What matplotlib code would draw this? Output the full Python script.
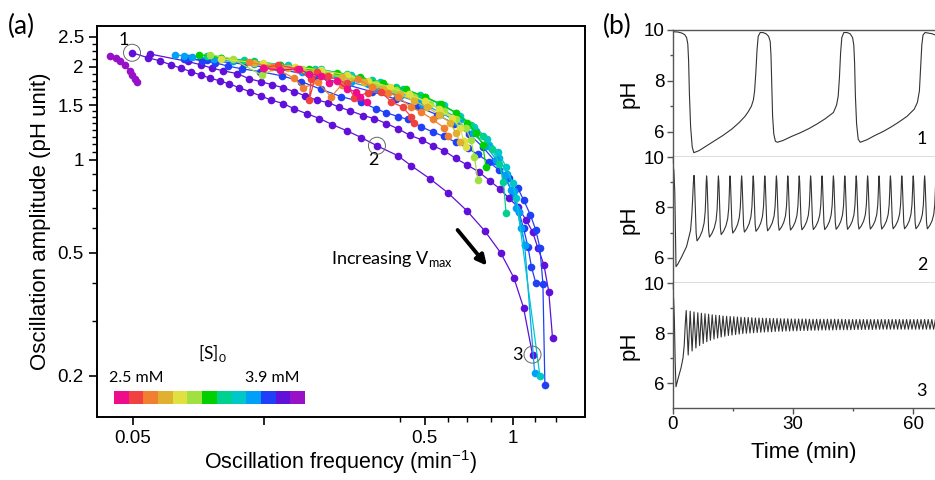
import matplotlib
matplotlib.use('Agg')
import matplotlib.pyplot as plt
from matplotlib.ticker import FixedLocator, NullFormatter

plt.rcParams['font.family'] = ['Liberation Sans', 'DejaVu Sans']
ANN = ['Lato', 'DejaVu Sans']   # Calibri-like font for the annotations

# ---------------- panel (a): amplitude vs frequency ----------------
cb_colors = ['#ec0c8c', '#f04040', '#f08030', '#e0b030', '#e0e040', '#a0e040', '#00d000',
             '#00d090', '#00c8c8', '#00a0f8', '#2040f8', '#6010d8', '#9810c8']

# (color index, frequency [min^-1], amplitude [pH unit])
pink_f = [0.14, 0.16, 0.185, 0.20, 0.22, 0.235, 0.25, 0.27, 0.29, 0.30, 0.317]
pink_a = [1.98, 1.95, 1.97, 1.90, 1.87, 1.77, 1.80, 1.70, 1.66, 1.60, 1.54]
red_f = [0.141, 0.157, 0.182, 0.204, 0.201, 0.213, 0.234, 0.27, 0.287, 0.32, 0.354, 0.384, 0.42, 0.449, 0.459]
red_a = [1.98, 2.03, 1.97, 1.82, 1.56, 1.93, 1.86, 1.77, 1.59, 1.65, 1.66, 1.54, 1.48, 1.38, 1.32]
orange_f = [0.125, 0.15, 0.178, 0.192, 0.215, 0.239, 0.26, 0.296, 0.33, 0.375, 0.405, 0.449, 0.485, 0.533, 0.582, 0.60]
orange_a = [2.07, 2.0, 1.84, 1.71, 1.78, 1.60, 1.75, 1.82, 1.72, 1.65, 1.60, 1.48, 1.43, 1.35, 1.27, 1.19]
gold_f = [0.13, 0.17, 0.21, 0.26, 0.31, 0.36, 0.41, 0.46, 0.51, 0.56, 0.61, 0.64, 0.66]
gold_a = [2.05, 1.98, 1.92, 1.85, 1.78, 1.70, 1.63, 1.55, 1.48, 1.40, 1.32, 1.22, 1.14]
yellow_f = [0.10, 0.14, 0.18, 0.22, 0.27, 0.32, 0.38, 0.44, 0.50, 0.56, 0.62, 0.66, 0.68, 0.69]
yellow_a = [2.12, 2.05, 2.0, 1.95, 1.88, 1.80, 1.72, 1.63, 1.55, 1.46, 1.37, 1.27, 1.15, 1.10]
lime_f = [0.092, 0.11, 0.138, 0.16, 0.19, 0.23, 0.28, 0.34, 0.40, 0.46, 0.52, 0.58, 0.64, 0.69, 0.72, 0.74, 0.76]
lime_a = [2.19, 2.12, 1.88, 2.0, 1.96, 1.90, 1.84, 1.76, 1.68, 1.60, 1.52, 1.44, 1.36, 1.27, 1.16, 1.02, 0.86]
green_f = [0.084, 0.10, 0.13, 0.16, 0.20, 0.25, 0.30, 0.36, 0.43, 0.50, 0.57, 0.64, 0.70, 0.75, 0.79, 0.81]
green_a = [2.19, 2.14, 2.07, 2.02, 1.97, 1.91, 1.85, 1.77, 1.69, 1.60, 1.51, 1.42, 1.32, 1.22, 1.12, 0.95]
teal_f = [0.09, 0.12, 0.16, 0.21, 0.27, 0.33, 0.40, 0.48, 0.56, 0.64, 0.72, 0.79, 0.85, 0.90, 0.93, 0.95]
teal_a = [2.16, 2.10, 2.03, 1.97, 1.89, 1.81, 1.72, 1.62, 1.52, 1.42, 1.30, 1.19, 1.08, 0.97, 0.85, 0.67]
cyan_f = [0.10, 0.13, 0.17, 0.22, 0.28, 0.35, 0.42, 0.50, 0.58, 0.66, 0.74, 0.82, 0.89, 0.95, 1.00, 1.03, 1.24]
cyan_a = [2.14, 2.08, 2.02, 1.96, 1.88, 1.79, 1.70, 1.60, 1.50, 1.39, 1.28, 1.17, 1.06, 0.95, 0.84, 0.75, 0.20]
sky_f = [0.0697, 0.08, 0.095, 0.11, 0.13, 0.155, 0.19, 0.23, 0.28, 0.34, 0.41, 0.49, 0.57, 0.65, 0.73,
         0.81, 0.88, 0.94, 0.99, 1.03, 1.07, 1.10, 1.19]
sky_a = [2.19, 2.15, 2.12, 2.08, 2.04, 2.0, 1.93, 1.86, 1.78, 1.70, 1.61, 1.52, 1.42, 1.32, 1.22,
         1.11, 1.00, 0.89, 0.80, 0.70, 0.60, 0.53, 0.204]
sky2_f = [0.075, 0.10, 0.14, 0.19, 0.25, 0.32, 0.40, 0.48, 0.57, 0.66, 0.75, 0.83, 0.90, 0.96, 1.01, 1.05, 1.10]
sky2_a = [2.17, 2.12, 2.04, 1.95, 1.86, 1.76, 1.66, 1.56, 1.46, 1.35, 1.24, 1.12, 1.01, 0.90, 0.79, 0.68, 0.53]
blue_f = [0.0771, 0.0861, 0.0954, 0.106, 0.118, 0.136, 0.162, 0.189, 0.221, 0.259, 0.303, 0.341, 0.369,
          0.405, 0.438, 0.485, 0.533, 0.582, 0.639, 0.702, 0.760, 0.828, 0.896, 0.969, 1.04, 1.09, 1.15,
          1.20, 1.24, 1.27, 1.29]
blue_a = [2.14, 2.09, 2.06, 2.01, 1.97, 1.93, 1.87, 1.79, 1.69, 1.60, 1.54, 1.46, 1.42, 1.38, 1.35, 1.28,
          1.23, 1.19, 1.14, 1.09, 1.04, 0.985, 0.928, 0.874, 0.812, 0.742, 0.664, 0.593, 0.519, 0.397, 0.187]
blue2_f = [0.075, 0.09, 0.12, 0.16, 0.21, 0.27, 0.33, 0.40, 0.47, 0.55, 0.63, 0.71, 0.79, 0.87, 0.94,
           1.0, 1.05, 1.09, 1.13, 1.16, 1.2]
blue2_a = [2.12, 2.10, 2.04, 1.96, 1.87, 1.75, 1.66, 1.57, 1.49, 1.40, 1.31, 1.21, 1.10, 0.99, 0.88,
           0.78, 0.68, 0.60, 0.52, 0.45, 0.40]
violet_mid_f = [0.0572, 0.0771, 0.0855, 0.0932, 0.102, 0.114, 0.125, 0.137, 0.150, 0.164, 0.179, 0.195,
                0.213, 0.234, 0.255, 0.278, 0.308, 0.336, 0.369, 0.405, 0.445, 0.489, 0.533, 0.582, 0.639,
                0.697, 0.766, 0.835, 0.903, 0.969, 1.04, 1.11, 1.17, 1.22, 1.28, 1.33, 1.37]
violet_mid_a = [2.20, 2.08, 2.03, 1.98, 1.94, 1.90, 1.83, 1.79, 1.75, 1.71, 1.66, 1.61, 1.56, 1.53, 1.48,
                1.44, 1.39, 1.36, 1.31, 1.26, 1.20, 1.16, 1.11, 1.07, 1.01, 0.963, 0.914, 0.855, 0.806,
                0.753, 0.705, 0.640, 0.585, 0.519, 0.457, 0.374, 0.265]
violet_low_f = [0.0497, 0.0563, 0.0619, 0.0675, 0.0730, 0.0790, 0.0855, 0.0917, 0.0993, 0.107, 0.116,
                0.126, 0.137, 0.149, 0.164, 0.179, 0.197, 0.218, 0.241, 0.271, 0.303, 0.343, 0.405,
                0.449, 0.521, 0.600, 0.697, 0.802, 0.910, 1.01, 1.09, 1.17]
violet_low_a = [2.22, 2.14, 2.09, 2.03, 1.98, 1.93, 1.88, 1.84, 1.80, 1.76, 1.71, 1.66, 1.61, 1.56, 1.52,
                1.46, 1.41, 1.36, 1.30, 1.24, 1.18, 1.11, 1.03, 0.957, 0.868, 0.782, 0.684, 0.589, 0.500,
                0.415, 0.332, 0.234]
purple_f = [0.0418, 0.0438, 0.0453, 0.0470, 0.0488, 0.0497, 0.0508, 0.0516]
purple_a = [2.17, 2.14, 2.09, 2.03, 1.94, 1.88, 1.83, 1.79]

series = [(12, purple_f, purple_a), (11, violet_low_f, violet_low_a), (11, violet_mid_f, violet_mid_a),
          (10, blue_f, blue_a), (10, blue2_f, blue2_a), (9, sky_f, sky_a), (9, sky2_f, sky2_a),
          (8, cyan_f, cyan_a), (7, teal_f, teal_a), (6, green_f, green_a), (5, lime_f, lime_a),
          (4, yellow_f, yellow_a), (3, gold_f, gold_a), (2, orange_f, orange_a), (1, red_f, red_a),
          (0, pink_f, pink_a)]

# marked points 1, 2, 3
mark_f = [0.0497, 0.343, 1.17]
mark_a = [2.22, 1.11, 0.234]

# ---------------- panel (b): pH time traces ----------------
p1_t = [0, 0.3, 1.2, 2.2, 2.9, 3.4, 3.7, 3.9, 4.1, 4.4, 4.8, 5.2, 6.5, 8.5, 10.5, 12.5, 14.7, 16.5, 18.0,
        18.8, 19.6, 20.1, 20.4, 20.7, 21.0, 21.3, 21.8, 22.5, 23.3, 23.9, 24.3, 24.5, 24.7, 24.9, 25.2,
        25.6, 26.1, 27.5, 29.5, 31.75, 34, 36, 38, 40.1, 40.9, 41.3, 41.6, 41.9, 42.2, 42.7, 43.5, 44.3,
        44.9, 45.2, 45.4, 45.6, 45.9, 46.3, 46.8, 48.5, 50.5, 52.5, 54.5, 56.5, 58.5, 60.3, 61.1, 61.6,
        61.9, 62.2, 62.5, 63.0, 63.8, 64.8, 65.6]
p1_ph = [9.90, 9.93, 9.92, 9.88, 9.82, 9.7, 9.45, 8.8, 7.5, 6.2, 5.4, 5.17, 5.25, 5.45, 5.65, 5.85, 6.1,
         6.35, 6.6, 6.78, 7.0, 7.25, 7.6, 8.3, 9.2, 9.75, 9.9, 9.9, 9.85, 9.75, 9.55, 9.0, 7.8, 6.6, 5.9,
         5.62, 5.58, 5.65, 5.8, 5.95, 6.12, 6.3, 6.5, 6.75, 7.05, 7.4, 8.1, 9.1, 9.7, 9.9, 9.9, 9.85, 9.7,
         9.4, 8.7, 7.4, 6.3, 5.7, 5.58, 5.68, 5.85, 6.0, 6.18, 6.38, 6.6, 6.88, 7.15, 7.6, 8.5, 9.4, 9.8,
         9.9, 9.88, 9.85, 9.8]

p2_start_t = [0, 0.2, 0.45, 0.6, 0.75, 1.2, 2.2, 3.4, 4.4, 4.7, 4.9, 5.1]
p2_start_ph = [9.6, 9.5, 8.6, 7.0, 5.65, 5.75, 6.05, 6.45, 7.1, 7.7, 8.3, 9.0]
p2_peak_t = [5.25, 8.4, 11.35, 14.25, 17.15, 20.05, 22.95, 25.85, 28.7, 31.55, 34.4, 37.25, 40.1, 42.95,
             45.8, 48.65, 51.5, 54.35, 57.2, 60.05, 62.9, 65.75]
p2_peak_ph = [9.27, 9.25, 9.25, 9.25, 9.25, 9.25, 9.25, 9.25, 9.25, 9.25, 9.25, 9.25, 9.25, 9.25, 9.25,
              9.25, 9.25, 9.25, 9.25, 9.25, 9.25, 9.25]
p2_trough_ph = [6.67, 6.82, 6.92, 6.98, 7.02, 7.05, 7.07, 7.09, 7.10, 7.11, 7.12, 7.12, 7.13, 7.13, 7.14,
                7.14, 7.14, 7.15, 7.15, 7.15, 7.15, 7.15]
# shape of one cycle: phase within the cycle, level between trough (0) and peak (1)
p2_phase = [0, 0.04, 0.1, 0.17, 0.24, 0.45, 0.65, 0.8, 0.89, 0.94, 0.97]
p2_level = [1.0, 0.9, 0.55, 0.12, 0.0, 0.06, 0.15, 0.27, 0.45, 0.7, 0.9]

p3_start_t = [0, 0.15, 0.35, 0.55, 0.75, 1.3, 2.0, 2.5, 2.8, 3.05]
p3_start_ph = [9.5, 9.4, 8.5, 6.8, 5.85, 6.2, 6.6, 7.0, 7.5, 8.3]
p3_peak_t = [3.3, 4.3, 5.25, 6.2, 7.1, 8.0, 8.9, 9.8, 10.7, 11.6, 12.5, 13.4, 14.3, 15.2, 16.1, 17.0,
             17.9, 18.8, 19.7, 20.6, 21.5, 22.4, 23.3, 24.2, 25.1, 26.0, 26.9, 27.8, 28.7, 29.6, 30.5,
             31.4, 32.3, 33.2, 34.1, 35.0, 35.9, 36.8, 37.7, 38.6, 39.5, 40.4, 41.3, 42.2, 43.1, 44.0,
             44.9, 45.8, 46.7, 47.6, 48.5, 49.4, 50.3, 51.2, 52.1, 53.0, 53.9, 54.8, 55.7, 56.6, 57.5,
             58.4, 59.3, 60.2, 61.1, 62.0, 62.9, 63.8, 64.7, 65.6]
p3_peak_ph = [8.90, 8.87, 8.84, 8.81, 8.79, 8.77, 8.75, 8.73, 8.71, 8.70, 8.68, 8.67, 8.66, 8.65, 8.64,
              8.63, 8.62, 8.62, 8.61, 8.60, 8.60, 8.59, 8.59, 8.58, 8.58, 8.58, 8.57, 8.57, 8.57, 8.56,
              8.56, 8.56, 8.56, 8.56, 8.55, 8.55, 8.55, 8.55, 8.55, 8.55, 8.55, 8.55, 8.55, 8.55, 8.54,
              8.54, 8.54, 8.54, 8.54, 8.54, 8.54, 8.54, 8.54, 8.54, 8.54, 8.54, 8.54, 8.54, 8.54, 8.54,
              8.54, 8.54, 8.54, 8.54, 8.54, 8.54, 8.54, 8.54, 8.54, 8.54]
p3_trough_ph = [7.12, 7.28, 7.40, 7.50, 7.58, 7.65, 7.71, 7.76, 7.80, 7.84, 7.87, 7.90, 7.92, 7.94, 7.96,
                7.98, 7.99, 8.00, 8.01, 8.02, 8.03, 8.04, 8.05, 8.05, 8.06, 8.07, 8.07, 8.08, 8.08, 8.09,
                8.09, 8.10, 8.10, 8.10, 8.11, 8.11, 8.11, 8.12, 8.12, 8.12, 8.12, 8.13, 8.13, 8.13, 8.13,
                8.13, 8.14, 8.14, 8.14, 8.14, 8.14, 8.14, 8.15, 8.15, 8.15, 8.15, 8.15, 8.15, 8.15, 8.15,
                8.15, 8.15, 8.15, 8.15, 8.15, 8.15, 8.15, 8.15, 8.15, 8.15]
p3_phase = [0, 0.5]
p3_level = [1.0, 0.0]


def build_trace(start_t, start_ph, peak_t, peak_ph, trough_ph, phase, level):
    t = list(start_t)
    ph = list(start_ph)
    for k in range(len(peak_t) - 1):
        T = peak_t[k + 1] - peak_t[k]
        for p, lv in zip(phase, level):
            t.append(peak_t[k] + p * T)
            ph.append(trough_ph[k] + lv * (peak_ph[k] - trough_ph[k]))
    t.append(peak_t[-1])
    ph.append(peak_ph[-1])
    return t, ph


p2_t, p2_ph = build_trace(p2_start_t, p2_start_ph, p2_peak_t, p2_peak_ph, p2_trough_ph, p2_phase, p2_level)
p3_t, p3_ph = build_trace(p3_start_t, p3_start_ph, p3_peak_t, p3_peak_ph, p3_trough_ph, p3_phase, p3_level)

# ---------------- figure ----------------
fig = plt.figure(figsize=(9.35, 4.8), dpi=100)

ax = fig.add_axes([97 / 935, 1 - 417 / 480, 488 / 935, 391 / 480])
for ci, f, a in series:
    ax.plot(f, a, '-o', color=cb_colors[ci], ms=5.5, lw=0.9, mec='none')
ax.scatter(mark_f, mark_a, s=150, facecolors='none', edgecolors='#666666', linewidths=0.7, zorder=5)

ax.set_xscale('log')
ax.set_yscale('log')
ax.set_xlim(0.0377, 1.77)
ax.set_ylim(0.147, 2.71)
ax.xaxis.set_major_locator(FixedLocator([0.05, 0.141, 0.5, 1]))
ax.set_xticklabels(['0.05', '', '0.5', '1'])
ax.xaxis.set_minor_locator(FixedLocator([0.41, 0.6, 0.7, 0.84, 1.19, 1.41]))
ax.xaxis.set_minor_formatter(NullFormatter())
ax.yaxis.set_major_locator(FixedLocator([0.2, 0.5, 1, 1.5, 2, 2.5]))
ax.set_yticklabels(['0.2', '0.5', '1', '1.5', '2', '2.5'])
ax.yaxis.set_minor_locator(FixedLocator([0.3, 0.4, 0.6, 0.7, 0.8, 0.9, 1.0625, 1.125, 1.1875, 1.25,
                                         1.3125, 1.375, 1.4375, 1.6, 1.7, 1.8, 1.9, 2.125, 2.25, 2.375]))
ax.yaxis.set_minor_formatter(NullFormatter())
ax.tick_params(which='major', length=6, width=1.2, labelsize=13.5, direction='out')
ax.tick_params(which='minor', length=3.5, width=1.0, direction='out')
for s in ax.spines.values():
    s.set_linewidth(1.4)
ax.set_xlabel('Oscillation frequency (min$^{\\mathregular{-1}}$)', fontsize=15.5, labelpad=1)
ax.set_ylabel('Oscillation amplitude (pH unit)', fontsize=16, labelpad=5)

ax.text(0.0467, 2.45, '1', fontsize=13, family=ANN, ha='center', va='center')
ax.text(0.333, 1.0, '2', fontsize=13, family=ANN, ha='center', va='center')
ax.text(1.035, 0.234, '3', fontsize=13, family=ANN, ha='center', va='center')
ax.text(0.239, 0.478, 'Increasing V$_\\mathregular{max}$', fontsize=13, family=ANN, ha='left', va='center')
ax.annotate('', xy=(0.828, 0.447), xytext=(0.639, 0.602),
            arrowprops=dict(arrowstyle='-|>,head_length=0.6,head_width=0.3', color='black', lw=2.8))

# colour key for [S]0
cax = fig.add_axes([114 / 935, 1 - 404 / 480, 191 / 935, 13 / 480])
cax.bar(range(len(cb_colors)), 1, width=1.0, color=cb_colors)
cax.set_xlim(-0.5, len(cb_colors) - 0.5)
cax.set_ylim(0, 1)
cax.axis('off')
fig.text(136 / 935, 1 - 378 / 480, '2.5 mM', fontsize=11.5, family=ANN, ha='center', va='center')
fig.text(272 / 935, 1 - 378 / 480, '3.9 mM', fontsize=11.5, family=ANN, ha='center', va='center')
fig.text(212 / 935, 1 - 353 / 480, '[S]$_\\mathregular{0}$', fontsize=12.5, family=ANN, ha='center', va='center')

fig.text(8 / 935, 1 - 26 / 480, '(a)', fontsize=19, family=ANN, ha='left', va='center')
fig.text(603 / 935, 1 - 26 / 480, '(b)', fontsize=19, family=ANN, ha='left', va='center')

# stacked pH traces
x0, w = 673 / 935, 262 / 935
rows = [(30, 157), (157, 283), (283, 408)]
traces = [(p1_t, p1_ph, '1'), (p2_t, p2_ph, '2'), (p3_t, p3_ph, '3')]
for i, ((top, bot), (t, ph, lab)) in enumerate(zip(rows, traces)):
    bx = fig.add_axes([x0, 1 - bot / 480, w, (bot - top) / 480])
    bx.plot(t, ph, color='#333333', lw=0.8)
    bx.set_xlim(0, 65.5)
    bx.set_ylim(5, 10)
    bx.set_yticks([6, 8, 10])
    bx.yaxis.set_minor_locator(FixedLocator([7, 9]))
    bx.set_xticks([0, 30, 60])
    bx.xaxis.set_minor_locator(FixedLocator([15, 45]))
    bx.spines['right'].set_visible(False)
    if i > 0:
        bx.spines['top'].set_visible(False)
    for s in bx.spines.values():
        s.set_color('#555555')
        s.set_linewidth(1.0)
    bx.tick_params(which='major', length=4, width=1.0, labelsize=13.5, color='#555555', pad=2)
    bx.tick_params(which='minor', length=2.5, width=1.0, color='#555555')
    if i < 2:
        bx.tick_params(axis='x', labelbottom=False)
    else:
        bx.set_xlabel('Time (min)', fontsize=16, labelpad=6)
    bx.set_ylabel('pH', fontsize=16, labelpad=3)
    bx.text(0.95, 0.14, lab, transform=bx.transAxes, fontsize=13, family=ANN, ha='center', va='center')

fig.savefig('out.png', dpi=100)
